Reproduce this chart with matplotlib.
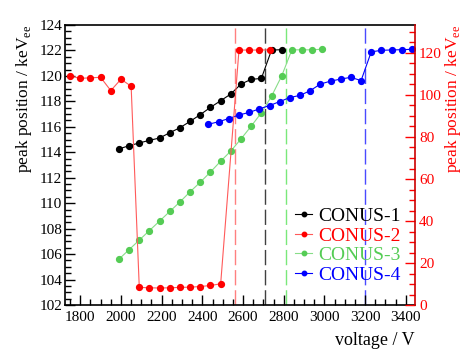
import matplotlib
matplotlib.use('Agg')
import matplotlib.pyplot as plt
from matplotlib.lines import Line2D
from matplotlib.ticker import MultipleLocator

plt.rcParams['font.family'] = ['Liberation Serif', 'DejaVu Serif']
plt.rcParams['mathtext.fontset'] = 'custom'
plt.rcParams['mathtext.rm'] = 'Liberation Serif'

# CONUS-1 (left axis, keV_ee)
v1 = [1990, 2040, 2090, 2140, 2190, 2240, 2290, 2340, 2390, 2440, 2490,
      2540, 2590, 2640, 2690, 2740, 2790]
p1 = [114.26, 114.52, 114.73, 114.94, 115.12, 115.54, 115.93, 116.43, 116.96,
      117.53, 118.05, 118.58, 119.36, 119.73, 119.80, 122.03, 122.06]

# CONUS-2 (right axis, keV_ee)
v2 = [1750, 1800, 1850, 1900, 1950, 2000, 2050, 2090, 2140, 2190, 2240, 2290,
      2340, 2390, 2440, 2490, 2580, 2630, 2680, 2730]
p2 = [109.1, 107.9, 108.2, 108.4, 102.1, 107.5, 104.2, 8.4, 8.2, 8.1, 8.2, 8.4,
      8.5, 8.8, 9.3, 10.1, 121.4, 121.4, 121.4, 121.5]

# CONUS-3 (left axis)
v3 = [1990, 2040, 2090, 2140, 2190, 2240, 2290, 2340, 2390, 2440, 2490, 2540,
      2590, 2640, 2690, 2740, 2790, 2840, 2890, 2940, 2990]
p3 = [105.6, 106.35, 107.1, 107.85, 108.6, 109.35, 110.1, 110.9, 111.65, 112.45,
      113.3, 114.1, 115.05, 116.05, 117.1, 118.4, 120.0, 122.05, 122.05, 122.05,
      122.1]

# CONUS-4 (left axis)
v4 = [2430, 2480, 2530, 2580, 2630, 2680, 2730, 2780, 2830, 2880, 2930, 2980,
      3030, 3080, 3130, 3180, 3230, 3280, 3330, 3380, 3430]
p4 = [116.2, 116.4, 116.65, 116.93, 117.13, 117.41, 117.67, 117.98, 118.3,
      118.47, 118.84, 119.36, 119.59, 119.75, 119.89, 119.63, 121.89, 122.01,
      122.04, 122.06, 122.09]

# full depletion markers
vdep = [2560, 2710, 2810, 3200]
dep_colors = ['#ff8080', '#404040', '#7ae87a', '#4a4aff']

labels = ['CONUS-1', 'CONUS-2', 'CONUS-3', 'CONUS-4']
mcolors = ['#000000', '#ff0000', '#55cc55', '#0000ff']
lcolors = ['#000000', '#ff5a5a', '#88dd88', '#0000ff']

fig = plt.figure(figsize=(4.63, 3.55), dpi=100)
ax = fig.add_axes([0.1404, 0.1408, 0.7559, 0.7888])
ax2 = ax.twinx()

for v, c in zip(vdep, dep_colors):
    ax.axvline(v, color=c, lw=1.0, dashes=(11, 3.5), zorder=1)

ax.plot(v1, p1, '-o', color=lcolors[0], mfc=mcolors[0], mec=mcolors[0], lw=0.8, ms=4.2, zorder=3)
ax.plot(v3, p3, '-o', color=lcolors[2], mfc=mcolors[2], mec=mcolors[2], lw=0.8, ms=4.2, zorder=3)
ax.plot(v4, p4, '-o', color=lcolors[3], mfc=mcolors[3], mec=mcolors[3], lw=0.8, ms=4.2, zorder=3)
ax2.plot(v2, p2, '-o', color=lcolors[1], mfc=mcolors[1], mec=mcolors[1], lw=0.8, ms=4.2, zorder=3)

ax.set_xlim(1725, 3445)
ax.set_ylim(102, 124)
ax2.set_ylim(0, 133.33)

ax.xaxis.set_major_locator(MultipleLocator(200))
ax.xaxis.set_minor_locator(MultipleLocator(50))
ax.yaxis.set_major_locator(MultipleLocator(2))
ax.yaxis.set_minor_locator(MultipleLocator(0.5))
ax2.yaxis.set_major_locator(MultipleLocator(20))
ax2.yaxis.set_minor_locator(MultipleLocator(5))

ax.tick_params(which='both', direction='in', top=False, right=False, labelsize=11)
ax.tick_params(which='major', length=7, width=1)
ax.tick_params(which='minor', length=4, width=1)
ax.tick_params(axis='y', pad=2)
ax.tick_params(axis='x', pad=4)
ax2.tick_params(which='both', direction='in', colors='#ff0000', labelsize=11, pad=3)
ax2.tick_params(which='major', length=7, width=1)
ax2.tick_params(which='minor', length=4, width=1)

for s in ['left', 'top', 'bottom']:
    ax2.spines[s].set_visible(False)
ax.spines['right'].set_visible(False)
ax2.spines['right'].set_color('#cc0000')
ax2.spines['right'].set_linewidth(1.2)
for s in ['left', 'top', 'bottom']:
    ax.spines[s].set_linewidth(1.2)

ax.set_xlabel('voltage / V', fontsize=13, loc='right', labelpad=6)
ax.set_ylabel('peak position / keV$_{\\mathregular{ee}}$', fontsize=12.5, loc='top', labelpad=4)
ax2.set_ylabel('peak position / keV$_{\\mathregular{ee}}$', fontsize=12.5, loc='top',
               color='#ff0000', labelpad=1)

handles = [Line2D([], [], color=lc, marker='o', mfc=mc, mec=mc, lw=0.8, ms=3.2)
           for lc, mc in zip(lcolors, mcolors)]
leg = ax2.legend(handles, labels, loc='center left', bbox_to_anchor=(0.657, 0.2125),
                 frameon=False, fontsize=14, handlelength=0.9, handletextpad=0.3,
                 labelspacing=0.1, borderpad=0, borderaxespad=0)
for t, c in zip(leg.get_texts(), mcolors):
    t.set_color(c)

fig.savefig('out.png', dpi=100)
